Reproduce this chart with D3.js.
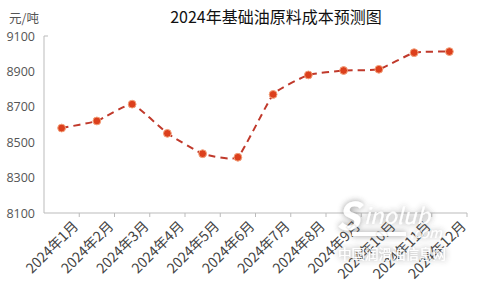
<!DOCTYPE html>
<html><head><meta charset="utf-8">
<script src="https://cdn.jsdelivr.net/npm/d3@7"></script>
<style>body{margin:0;background:#fff}svg{display:block}text{font-family:"Noto Sans CJK SC","Noto Sans",sans-serif}</style>
</head><body><svg id="c" width="480" height="288"></svg>
<script>
const months = ["2024年1月","2024年2月","2024年3月","2024年4月","2024年5月","2024年6月","2024年7月","2024年8月","2024年9月","2024年10月","2024年11月","2024年12月"];
const costs = [8580,8620,8715,8550,8435,8415,8770,8880,8905,8912,9006,9012];
const yTicks = [8100,8300,8500,8700,8900,9100];
const title = "2024年基础油原料成本预测图";
const unit = "元/吨";

(function(){
const svg = d3.select("#c");
const mL = 44, mR = 467, mT = 36, mB = 213;
const x = d3.scaleBand().domain(months).range([mL, mR]);
const y = d3.scaleLinear().domain([8100, 9100]).range([mB, mT]);

const defs = svg.append("defs");
const f = defs.append("filter").attr("id","sh").attr("x","-20%").attr("y","-40%").attr("width","140%").attr("height","180%");
f.append("feGaussianBlur").attr("in","SourceAlpha").attr("stdDeviation",3).attr("result","b");
f.append("feFlood").attr("flood-color","#666").attr("flood-opacity",0.8);
f.append("feComposite").attr("in2","b").attr("operator","in").attr("result","s");
const m = f.append("feMerge"); m.append("feMergeNode").attr("in","s"); m.append("feMergeNode").attr("in","SourceGraphic");

svg.append("text").attr("x",276).attr("y",23).attr("text-anchor","middle").attr("font-size",16).attr("fill","#111").text(title);
svg.append("text").attr("x",24).attr("y",23).attr("text-anchor","middle").attr("font-size",12.5).attr("fill","#555").text(unit);

// y axis
const ya = svg.append("g").attr("transform",`translate(${mL},0)`)
  .call(d3.axisLeft(y).tickValues(yTicks).tickSize(0).tickPadding(9).tickFormat(d3.format("d")));
ya.select(".domain").remove();
ya.selectAll("text").attr("font-size",12.5).attr("fill","#555").style("font-family","'Open Sans','Noto Sans',sans-serif");
svg.append("path").attr("d",`M${mL+4},${mT}H${mL}V${mB}`).attr("fill","none").attr("stroke","#bbb");

// x axis
const xa = svg.append("g").attr("transform",`translate(0,${mB})`)
  .call(d3.axisBottom(x).tickSize(0).tickPadding(0));
xa.select(".domain").attr("d",`M${mL},0H${mR}`).attr("stroke","#bbb");
xa.selectAll(".tick line").remove();
xa.selectAll(".tick text").attr("font-size",14).attr("fill","#444")
  .attr("text-anchor","end").attr("dy",0)
  .attr("transform",`translate(${x.bandwidth()/2},14) rotate(-45)`);
svg.append("g").selectAll("line").data(months).join("line")
  .attr("x1",d=>x(d)+x.bandwidth()).attr("x2",d=>x(d)+x.bandwidth())
  .attr("y1",mB).attr("y2",mB+4).attr("stroke","#bbb");

// line
const cx = d=>x(d)+x.bandwidth()/2;
const line = d3.line().x((d,i)=>cx(months[i])).y(d=>y(d)).curve(d3.curveCardinal.tension(0.6));
svg.append("path").datum(costs).attr("d",line).attr("fill","none")
  .attr("stroke","#c0392b").attr("stroke-width",2).attr("stroke-dasharray","7,5");
svg.append("g").selectAll("circle").data(costs).join("circle")
  .attr("cx",(d,i)=>cx(months[i])).attr("cy",d=>y(d)).attr("r",3.9)
  .attr("fill","#dc3f1c").attr("stroke","#f3a27c").attr("stroke-width",1);

// watermark
const wm = svg.append("g").attr("filter","url(#sh)").attr("fill","#fff").attr("opacity",0.9);
wm.append("text").attr("x",336).attr("y",230).attr("font-size",38).attr("font-style","italic").attr("font-weight","bold").attr("font-family","'Liberation Serif',serif").text("S");
wm.append("text").attr("x",364).attr("y",224).attr("font-size",22).attr("font-style","italic").attr("font-family","'Liberation Serif',serif").text("inolub");
wm.append("rect").attr("x",352).attr("y",232).attr("width",54).attr("height",4);
wm.append("text").attr("x",410).attr("y",238).attr("font-size",14).attr("font-style","italic").attr("font-family","'Liberation Serif',serif").text(".com");
wm.append("text").attr("x",338).attr("y",259).attr("font-size",13.5).text("中国润滑油信息网");
})();
</script></body></html>
